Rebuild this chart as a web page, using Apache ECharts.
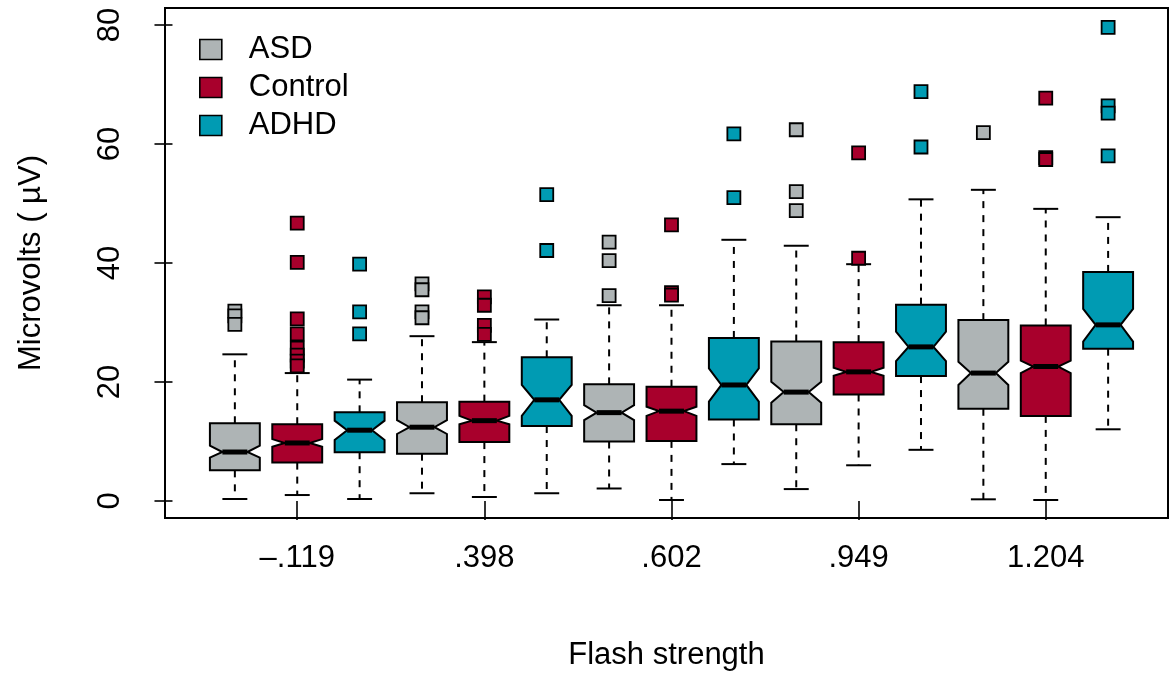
<!DOCTYPE html>
<html>
<head>
<meta charset="utf-8">
<script src="https://cdn.jsdelivr.net/npm/echarts@6/dist/echarts.min.js"></script>
<style>
html, body { margin: 0; padding: 0; background: #fff; }
#main { width: 1170px; height: 673px; }
</style>
</head>
<body>
<div id="main"></div>
<script>
// flash strengths (x axis groups)
var strengths = ['\u2013.119', '.398', '.602', '.949', '1.204'];
var groups = ['ASD', 'Control', 'ADHD'];
var colors = ['#aeb4b5', '#a8002c', '#009bb3'];

// box stats per strength: [lowWhisker, q1, notchLow, median, notchHigh, q3, highWhisker]
var asdStats = [
    [0.33, 5.15, 7.3, 8.23, 9.3, 13.06, 24.65],
    [1.3, 7.95, 11.26, 12.4, 13.6, 16.6, 27.7],
    [2.1, 10.0, 13.6, 14.85, 16.1, 19.6, 32.9],
    [2.0, 12.9, 16.5, 18.3, 20.05, 26.8, 42.9],
    [0.28, 15.5, 19.5, 21.5, 23.4, 30.4, 52.3]
];
var controlStats = [
    [1.0, 6.45, 9.1, 9.75, 10.4, 12.9, 21.5],
    [0.67, 9.9, 12.9, 13.5, 14.3, 16.7, 26.7],
    [0.17, 10.1, 14.3, 15.1, 15.85, 19.2, 32.9],
    [6.0, 17.9, 21.06, 21.7, 22.4, 26.7, 39.8],
    [0.17, 14.3, 21.5, 22.6, 23.6, 29.5, 49.1]
];
var adhdStats = [
    [0.33, 8.2, 10.25, 11.9, 13.5, 14.9, 20.4],
    [1.3, 12.6, 14.3, 17.0, 19.5, 24.15, 30.5],
    [6.2, 13.7, 16.7, 19.5, 22.3, 27.4, 43.9],
    [8.6, 21.0, 23.5, 25.9, 28.45, 33.0, 50.7],
    [12.05, 25.6, 26.8, 29.6, 32.3, 38.5, 47.7]
];

// outliers per strength
var asdOut = [[31.9, 31.1, 29.7], [36.5, 35.5, 31.8, 30.8], [43.5, 40.4, 34.5], [62.4, 52.0, 48.8], [61.9]];
var controlOut = [[46.7, 40.1, 30.6, 28.1, 25.7, 24.5, 23.5, 22.7], [34.3, 32.9, 29.5, 28.0], [46.4, 35.0, 34.6], [58.5, 40.8], [67.7, 57.7, 57.4]];
var adhdOut = [[39.8, 31.8, 28.1], [51.5, 42.1], [61.7, 51.0], [68.8, 59.5], [79.6, 66.4, 65.2, 58.0]];

var yTicks = [0, 20, 40, 60, 80];

var allStats = [asdStats, controlStats, adhdStats];
var allOut = [asdOut, controlOut, adhdOut];
var FONT = '"Liberation Sans", Arial, sans-serif';
var FS = 31;

function renderBox(params, api) {
    var x = api.value(0);
    var lo = api.value(1), q1 = api.value(2), nLo = api.value(3), med = api.value(4),
        nHi = api.value(5), q3 = api.value(6), hi = api.value(7);
    var hw = 0.4, nw = 0.2, cw = 0.2;
    function p(dx, v) { return api.coord([x + dx, v]); }
    var pts = [p(-hw, q3), p(hw, q3), p(hw, nHi), p(nw, med), p(hw, nLo), p(hw, q1),
               p(-hw, q1), p(-hw, nLo), p(-nw, med), p(-hw, nHi)];
    var c = api.coord([x, med]);
    var line = { stroke: '#000', lineWidth: 2 };
    var dash = { stroke: '#000', lineWidth: 2, lineDash: [7, 7] };
    return {
        type: 'group',
        children: [
            { type: 'line', shape: { x1: c[0], y1: p(0, q3)[1], x2: c[0], y2: p(0, hi)[1] }, style: dash },
            { type: 'line', shape: { x1: c[0], y1: p(0, q1)[1], x2: c[0], y2: p(0, lo)[1] }, style: dash },
            { type: 'line', shape: { x1: p(-cw, hi)[0], y1: p(0, hi)[1], x2: p(cw, hi)[0], y2: p(0, hi)[1] }, style: line },
            { type: 'line', shape: { x1: p(-cw, lo)[0], y1: p(0, lo)[1], x2: p(cw, lo)[0], y2: p(0, lo)[1] }, style: line },
            { type: 'polygon', shape: { points: pts }, style: { fill: api.visual('color'), stroke: '#000', lineWidth: 2 } },
            { type: 'line', shape: { x1: p(-nw, med)[0], y1: c[1], x2: p(nw, med)[0], y2: c[1] }, style: { stroke: '#000', lineWidth: 5 } }
        ]
    };
}

var series = [];
groups.forEach(function (g, gi) {
    var boxData = allStats[gi].map(function (s, si) {
        return [si * 3 + gi + 1].concat(s);
    });
    series.push({
        name: g,
        type: 'custom',
        color: colors[gi],
        renderItem: renderBox,
        encode: { x: 0, y: [1, 2, 3, 4, 5, 6, 7] },
        data: boxData,
        z: 2
    });
    var outData = [];
    allOut[gi].forEach(function (arr, si) {
        arr.forEach(function (v) { outData.push([si * 3 + gi + 1, v]); });
    });
    series.push({
        name: g,
        type: 'scatter',
        symbol: 'rect',
        symbolSize: 13,
        color: colors[gi],
        itemStyle: { color: colors[gi], borderColor: '#000', borderWidth: 1.8, opacity: 1 },
        data: outData,
        z: 3
    });
});

var chart = echarts.init(document.getElementById('main'));
chart.setOption({
    animation: false,
    textStyle: { fontFamily: FONT },
    grid: {
        left: 165, right: 2, top: 8, bottom: 155, outerBoundsMode: 'none', containLabel: false,
        show: true, borderColor: '#000', borderWidth: 2, backgroundColor: 'transparent'
    },
    legend: {
        left: 194, top: 29, orient: 'vertical', itemGap: 7,
        itemWidth: 22, itemHeight: 20,
        data: groups.map(function (g) { return { name: g, icon: 'rect' }; }),
        itemStyle: { borderColor: '#000', borderWidth: 1.6 },
        textStyle: { fontSize: FS, color: '#000', fontFamily: FONT, padding: [0, 0, 0, 22] },
        selectedMode: false
    },
    xAxis: {
        type: 'value', min: -0.12, max: 15.96,
        splitLine: { show: false },
        axisLine: { show: false },
        axisTick: { show: true, customValues: [2, 5, 8, 11, 14], length: 19, lineStyle: { color: '#000', width: 1.6 } },
        axisLabel: {
            customValues: [2, 5, 8, 11, 14], color: '#000', fontSize: FS, margin: 25, fontFamily: FONT,
            formatter: function (v) { return strengths[Math.round((v - 2) / 3)]; }
        },
        name: 'Flash strength', nameLocation: 'middle', nameGap: 122,
        nameTextStyle: { fontSize: FS, color: '#000', fontFamily: FONT }
    },
    yAxis: {
        type: 'value', min: -2.86, max: 82.86,
        splitLine: { show: false },
        axisLine: { show: false },
        axisTick: { show: true, customValues: yTicks, length: 18, lineStyle: { color: '#000', width: 1.6 } },
        axisLabel: { customValues: yTicks, rotate: 90, color: '#000', fontSize: FS, margin: 39, fontFamily: FONT },
        name: 'Microvolts ( \u00b5V)', nameLocation: 'middle', nameGap: 118,
        nameTextStyle: { fontSize: FS, color: '#000', fontFamily: FONT }
    },
    series: series
});
</script>
</body>
</html>
